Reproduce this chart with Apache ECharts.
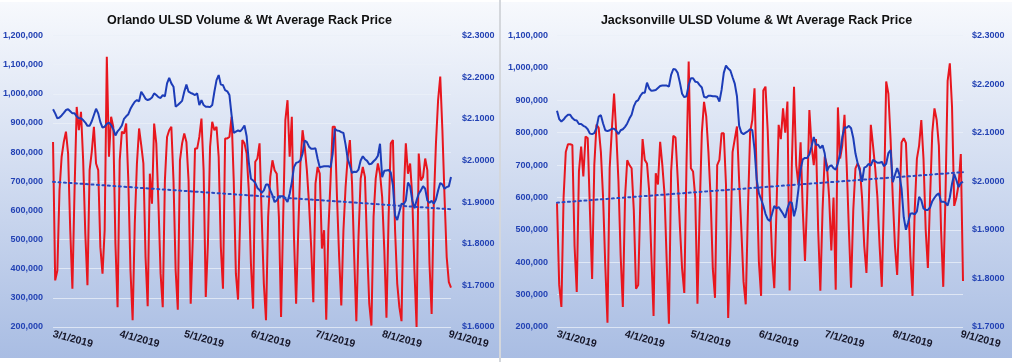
<!DOCTYPE html>
<html><head><meta charset="utf-8">
<script src="https://cdn.jsdelivr.net/npm/echarts@6/dist/echarts.min.js"></script>
<style>
html,body{margin:0;padding:0;background:#fff;}
#wrap{position:relative;width:1012px;height:362px;overflow:hidden;background:#fff;}
.panel{position:absolute;top:2px;height:356px;background:linear-gradient(#f7f9fd,#a9bde3);}
#c1{left:0;width:499px;}
#c2{left:501px;width:511px;}
#sep{position:absolute;left:499px;top:0;width:2px;height:362px;background:#d4d7dc;}
</style></head><body>
<div id="wrap"><div id="c1" class="panel"></div><div id="sep"></div><div id="c2" class="panel"></div></div>
<script>
// Daily categories 3/1/2019 .. 9/2/2019
const startDate = [2019, 2, 1];
const dayCount = 186;

const orlandoVolume = [835000,360000,394000,669000,784000,835000,870000,795000,532000,331000,
669000,955000,875000,938000,772000,520000,343000,738000,801000,887000,
761000,738000,474000,383000,532000,1127000,784000,921000,887000,486000,
268000,772000,870000,864000,898000,703000,394000,223000,555000,761000,
881000,824000,761000,440000,271000,726000,623000,898000,830000,623000,
383000,268000,703000,852000,875000,887000,703000,394000,259000,772000,
830000,864000,835000,703000,280000,509000,812000,812000,852000,915000,
738000,303000,486000,818000,904000,875000,887000,784000,474000,331000,
847000,847000,852000,921000,703000,383000,294000,578000,841000,830000,
795000,669000,417000,263000,767000,778000,830000,578000,348000,223000,
578000,715000,772000,738000,726000,578000,234000,578000,910000,978000,
784000,921000,509000,280000,532000,761000,875000,818000,738000,623000,
474000,285000,692000,749000,726000,469000,532000,225000,532000,703000,
887000,887000,646000,440000,274000,532000,681000,784000,841000,692000,
440000,220000,509000,709000,749000,715000,474000,280000,205000,578000,
709000,761000,726000,646000,463000,232000,578000,830000,841000,532000,
349000,268000,220000,646000,830000,726000,761000,646000,394000,200000,
795000,703000,715000,778000,738000,417000,245000,623000,830000,978000,
1059000,875000,646000,440000,354000,335000];

const orlandoPrice = [2.123,2.113,2.101,2.103,2.108,2.114,2.121,2.123,2.118,2.113,
2.113,2.106,2.101,2.101,2.097,2.091,2.083,2.083,2.094,2.109,
2.124,2.113,2.092,2.079,2.081,2.088,2.091,2.085,2.075,2.060,
2.070,2.076,2.084,2.100,2.106,2.111,2.124,2.133,2.141,2.145,
2.142,2.165,2.157,2.148,2.145,2.147,2.151,2.161,2.157,2.152,
2.150,2.157,2.154,2.185,2.198,2.185,2.177,2.129,2.133,2.138,
2.143,2.165,2.182,2.165,2.162,2.160,2.157,2.161,2.133,2.145,
2.133,2.129,2.129,2.128,2.133,2.165,2.193,2.205,2.182,2.181,
2.169,2.166,2.157,2.109,2.066,2.069,2.072,2.070,2.076,2.084,
2.058,1.996,1.956,1.952,1.946,1.934,1.929,1.922,1.928,1.942,
1.942,1.928,1.916,1.900,1.904,1.914,1.914,1.914,1.908,1.900,
1.920,1.948,1.984,1.994,1.996,2.000,2.016,2.048,2.044,2.033,
2.028,2.028,2.029,2.004,1.983,1.985,1.986,1.986,1.986,1.984,
2.016,2.076,2.072,2.071,2.068,2.066,2.038,2.003,1.988,1.970,
1.973,1.972,1.978,2.000,2.010,2.003,1.999,1.991,1.992,1.998,
2.003,2.011,2.040,1.960,1.975,1.976,1.977,1.971,1.940,1.868,
1.857,1.877,1.896,1.895,1.904,1.947,1.938,1.904,1.885,1.904,
1.920,1.928,1.938,1.932,1.904,1.898,1.903,1.896,1.906,1.928,
1.946,1.942,1.932,1.936,1.938,1.960];

const orlandoTrend = [698000, 604000];

const jaxVolume = [582000,330000,262000,600000,740000,764000,764000,762000,450000,308000,
680000,757000,665000,788000,783000,560000,348000,700000,825000,815000,
740000,600000,390000,213000,690000,810000,921000,800000,650000,420000,
262000,600000,715000,700000,690000,560000,318000,330000,600000,780000,
716000,705000,620000,420000,234000,675000,640000,772000,700000,610000,
400000,210000,680000,790000,785000,660000,510000,380000,305000,700000,
1020000,690000,680000,600000,272000,560000,800000,895000,850000,740000,
600000,380000,290000,700000,716000,798000,798000,640000,228000,450000,
740000,780000,819000,650000,500000,340000,270000,560000,800000,839000,
937000,660000,400000,296000,930000,942000,808000,600000,420000,320000,
560000,824000,780000,875000,800000,896000,313000,700000,942000,700000,
640000,770000,560000,404000,600000,870000,760000,700000,780000,500000,
312000,560000,726000,700000,600000,436000,600000,315000,878000,720000,
760000,855000,700000,500000,321000,560000,690000,705000,690000,600000,
450000,367000,560000,824000,760000,690000,600000,450000,324000,600000,
958000,920000,780000,600000,450000,361000,560000,770000,783000,768000,
600000,420000,296000,560000,720000,760000,839000,720000,500000,382000,
600000,800000,875000,840000,760000,500000,324000,600000,960000,1014000,
880000,574000,600000,640000,734000,342000];

const jaxPrice = [2.145,2.128,2.123,2.127,2.133,2.137,2.137,2.130,2.126,2.125,
2.118,2.118,2.114,2.112,2.107,2.098,2.097,2.099,2.110,2.133,
2.136,2.119,2.105,2.103,2.105,2.108,2.108,2.104,2.097,2.105,
2.107,2.112,2.119,2.129,2.137,2.154,2.164,2.167,2.176,2.182,
2.182,2.203,2.191,2.186,2.187,2.188,2.192,2.196,2.197,2.197,
2.197,2.195,2.219,2.231,2.230,2.223,2.203,2.180,2.173,2.175,
2.198,2.212,2.212,2.205,2.204,2.198,2.193,2.174,2.172,2.176,
2.176,2.175,2.175,2.174,2.164,2.188,2.223,2.238,2.232,2.228,
2.214,2.201,2.175,2.114,2.100,2.097,2.100,2.103,2.107,2.105,
2.066,2.004,1.975,1.963,1.950,1.933,1.922,1.918,1.933,1.949,
1.944,1.947,1.940,1.933,1.925,1.944,1.957,1.956,1.928,1.946,
1.983,2.024,2.045,2.048,2.048,2.055,2.072,2.091,2.075,2.075,
2.068,2.074,2.057,2.021,2.030,2.033,2.027,2.024,2.037,2.057,
2.091,2.111,2.110,2.114,2.109,2.089,2.057,2.037,2.021,1.999,
2.028,2.030,2.036,2.032,2.044,2.041,2.038,2.038,2.040,2.031,
2.036,2.058,2.064,1.998,2.013,2.027,2.014,1.985,1.926,1.900,
1.915,1.933,1.934,1.932,1.938,1.968,1.961,1.944,1.941,1.941,
1.946,1.959,1.966,1.972,1.975,1.958,1.958,1.956,1.950,1.967,
1.995,2.015,2.002,1.988,1.996,1.999];

const jaxTrend = [584000, 678000];

const orlandoTitle = 'Orlando ULSD Volume & Wt Average Rack Price';
const jaxTitle = 'Jacksonville ULSD Volume & Wt Average Rack Price';

// build category labels
const dates = [];
for (let i = 0; i < dayCount; i++) {
  const d = new Date(startDate[0], startDate[1], startDate[2] + i);
  dates.push((d.getMonth() + 1) + '/' + d.getDate() + '/' + d.getFullYear());
}

const FONT = 'Liberation Sans';
const AXIS_BLUE = '#2342b4';

function makeOption(cfg) {
  const trendData = dates.map((_, i) => i === 0 ? cfg.trend[0] : (i === dates.length - 1 ? cfg.trend[1] : null));
  return {
    animation: false,
    title: {
      text: cfg.title, left: 'center', top: 7,
      textStyle: { fontFamily: FONT, fontSize: 12.5, fontWeight: 'bold', color: '#111' }
    },
    grid: { left: cfg.left, right: cfg.right, top: 33.5, bottom: 31 },
    xAxis: {
      type: 'category', data: dates, boundaryGap: false,
      axisLine: { show: false }, axisTick: { show: false },
      axisLabel: {
        interval: (idx, val) => val.split('/')[1] === '1',
        rotate: -15, margin: 7,
        fontFamily: FONT, fontSize: 10.5, fontWeight: 'bold', color: '#161628'
      },
      splitLine: { show: false }
    },
    yAxis: [{
      type: 'value', min: cfg.vMin, max: cfg.vMax, interval: 100000,
      axisLine: { show: false }, axisTick: { show: false },
      axisLabel: {
        formatter: v => v.toLocaleString('en-US'), margin: cfg.lm,
        fontFamily: FONT, fontSize: 9, fontWeight: 'bold', color: AXIS_BLUE
      },
      splitLine: { show: true, lineStyle: { color: 'rgba(235,240,248,0.75)', width: 1 } }
    }, {
      type: 'value', min: cfg.pMin, max: cfg.pMax, interval: 0.1,
      axisLine: { show: false }, axisTick: { show: false },
      axisLabel: {
        formatter: v => '$' + v.toFixed(4), margin: cfg.rm,
        fontFamily: FONT, fontSize: 9, fontWeight: 'bold', color: AXIS_BLUE
      },
      splitLine: { show: false }
    }],
    series: [{
      type: 'line', data: cfg.volume, yAxisIndex: 0, symbol: 'none',
      lineStyle: { color: '#e8161e', width: 2 }, z: 2
    }, {
      type: 'line', data: cfg.price, yAxisIndex: 1, symbol: 'none',
      lineStyle: { color: '#1d3db8', width: 2 }, z: 3
    }, {
      type: 'line', data: trendData, yAxisIndex: 0, symbol: 'none', connectNulls: true,
      lineStyle: { color: '#2a48c0', width: 2, type: [2, 3.5], cap: 'round' }, z: 4
    }]
  };
}

const c1 = echarts.init(document.getElementById('c1'), null, { renderer: 'canvas' });
c1.setOption(makeOption({
  title: orlandoTitle, volume: orlandoVolume, price: orlandoPrice, trend: orlandoTrend,
  vMin: 200000, vMax: 1200000, pMin: 1.6, pMax: 2.3, left: 51, right: 48, lm: 10, rm: 11
}));
const c2 = echarts.init(document.getElementById('c2'), null, { renderer: 'canvas' });
c2.setOption(makeOption({
  title: jaxTitle, volume: jaxVolume, price: jaxPrice, trend: jaxTrend,
  vMin: 200000, vMax: 1100000, pMin: 1.7, pMax: 2.3, left: 56, right: 49, lm: 9, rm: 9
}));
</script>
</body></html>
